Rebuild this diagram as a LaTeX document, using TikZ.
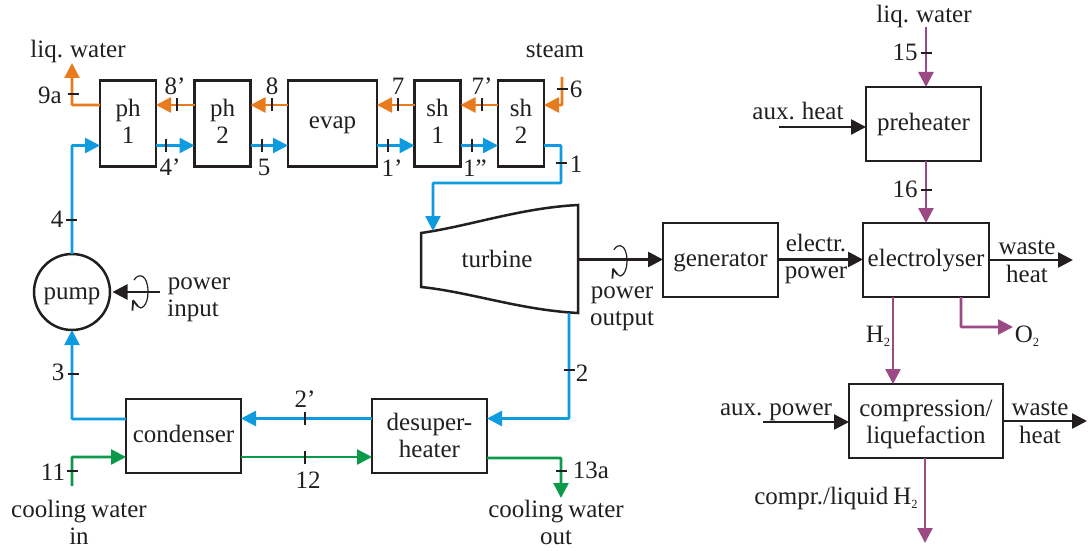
\documentclass[tikz,border=0pt]{standalone}
\usepackage{fontspec}
\setmainfont[WordSpace=0.8]{Liberation Serif}
\usetikzlibrary{arrows.meta,calc}
\definecolor{ink}{HTML}{231F20}
\definecolor{fblue}{HTML}{0F9BE0}
\definecolor{forange}{HTML}{E87B1E}
\definecolor{fgreen}{HTML}{0A9A4A}
\definecolor{fpurple}{HTML}{9B4A85}
\tikzset{
  x=1pt,y=-1pt,
  txt/.style={font=\fontsize{25}{27}\selectfont,text=ink},
  lbl/.style={txt,inner sep=0pt,anchor=base,align=center},
  unit/.style={txt,draw=ink,line width=2.5pt,fill=white,inner sep=0pt,align=center,outer sep=0pt},
  flow/.style={line width=2.6pt,-{Triangle[length=15pt,width=15pt]},rounded corners=0.6pt},
  blueflow/.style={flow,draw=fblue},
  orangeflow/.style={flow,draw=forange},
  greenflow/.style={flow,draw=fgreen},
  purpleflow/.style={flow,draw=fpurple},
  blackflow/.style={flow,draw=ink},
  ticks/.style={line width=2pt,draw=ink},
  spin/.style={line width=1.2pt,draw=ink},
}
\newcommand{\vtick}[2]{\draw[ticks] (#1,#2-6.5) -- (#1,#2+6.5);}
\newcommand{\htick}[2]{\draw[ticks] (#1-5.5,#2) -- (#1+5.5,#2);}
\newcommand{\spinmark}[4]{%
  \draw[spin] (#1-#3*0.75,#2-#4*0.7) .. controls (#1-#3*0.2,#2-#4*1.15) and (#1+#3,#2-#4*1.05) .. (#1+#3,#2) .. controls (#1+#3,#2+#4*0.8) and (#1+#3*0.1,#2+#4*1.1) .. (#1-#3*0.25,#2+#4*0.85);
  \draw[line width=1.8pt,draw=ink,line join=round] (#1-#3*0.25,#2+#4*0.85) -- (#1-#3*0.85,#2+#4*0.5) -- (#1-#3*0.95,#2+#4*1.1);
}
\newcommand{\onel}[2]{\raisebox{-#1pt}[0pt][0pt]{#2}}
\newcommand{\twol}[3]{\raisebox{-#1pt}[0pt][0pt]{#2}\\\raisebox{-#1pt}[0pt][0pt]{#3}}
\newcommand{\subtwo}{\raisebox{-4.5pt}{\fontsize{12.5}{12.5}\selectfont 2}}
\begin{document}
\begin{tikzpicture}
\useasboundingbox (0,0) rectangle (1088,551);
% rows
\coordinate (oy) at (0,105);
\coordinate (by) at (0,145.5);
% units
\node[unit,minimum width=56,minimum height=86] (ph1) at (128,123.5) {\twol{6.5}{ph}{1}};
\node[unit,minimum width=56,minimum height=86] (ph2) at (222.5,123.5) {\twol{6.5}{ph}{2}};
\node[unit,minimum width=89,minimum height=86] (evap) at (332.5,123.5) {\onel{5.5}{evap}};
\node[unit,minimum width=46,minimum height=86] (sh1) at (437.5,123.5) {\twol{6.5}{sh}{1}};
\node[unit,minimum width=46,minimum height=86] (sh2) at (521,123.5) {\twol{6.5}{sh}{2}};
\node[unit,circle,minimum size=76] (pump) at (72,292) {\onel{7}{pump}};
\draw[line width=2.5pt,draw=ink,fill=white,line join=miter] (421,233)
  .. controls (470,226) and (520,208) .. (578,205) -- (578,313)
  .. controls (520,310) and (470,292) .. (421,287) -- cycle;
\node[lbl] (turbine) at (497,267) {turbine};
\node[unit,minimum width=115,minimum height=74] (cond) at (183.5,436) {\onel{6}{condenser}};
\node[unit,minimum width=115,minimum height=74] (desup) at (429.5,436) {\twol{8}{desuper-}{heater}};
\node[unit,minimum width=115,minimum height=74] (gen) at (720.5,260) {\onel{6}{generator}};
\node[unit,minimum width=126,minimum height=74] (elec) at (926,260) {\onel{6}{electrolyser}};
\node[unit,minimum width=115,minimum height=74] (preh) at (923.5,124) {\onel{6}{preheater}};
\node[unit,minimum width=154,minimum height=74] (comp) at (926,421) {\twol{8.5}{compression/}{liquefaction}};
% free ends
\coordinate (liqOut) at (72,63);
\coordinate (steamIn) at (562,77);
\coordinate (turbIn) at (433,231);
\coordinate (turbOut) at (569,313);
\coordinate (turbE) at (578,259.5);
\coordinate (cwIn) at (72,486);
\coordinate (cwOut) at (561,498);
\coordinate (pwIn) at (160,292);
\coordinate (liqIn) at (926,27);
\coordinate (auxHeat) at (779,127);
\coordinate (wasteA) at (1073,260);
\coordinate (o2) at (1013,327);
\coordinate (auxPow) at (763,422);
\coordinate (wasteB) at (1087,421);
\coordinate (comprOut) at (925,543);
% orange water/steam side
\draw[orangeflow] (ph1.west |- oy) -- (72,105) -- (liqOut);
\draw[orangeflow] (ph2.west |- oy) -- (ph1.east |- oy);
\draw[orangeflow] (evap.west |- oy) -- (ph2.east |- oy);
\draw[orangeflow] (sh1.west |- oy) -- (evap.east |- oy);
\draw[orangeflow] (sh2.west |- oy) -- (sh1.east |- oy);
\draw[orangeflow] (steamIn) -- (562,105) -- (sh2.east |- oy);
% blue cycle
\draw[blueflow] (pump.north) -- (72,145.5) -- (ph1.west |- by);
\draw[blueflow] (ph1.east |- by) -- (ph2.west |- by);
\draw[blueflow] (ph2.east |- by) -- (evap.west |- by);
\draw[blueflow] (evap.east |- by) -- (sh1.west |- by);
\draw[blueflow] (sh1.east |- by) -- (sh2.west |- by);
\draw[blueflow] (sh2.east |- by) -- (561,145.5) -- (561,183) -- (433,183) -- (turbIn);
\draw[blueflow] (turbOut) -- (569,418.5) -- (desup.east |- 0,418.5);
\draw[blueflow] (desup.west |- 0,418.5) -- (cond.east |- 0,418.5);
\draw[blueflow] (cond.west |- 0,419) -- (72,419) -- (pump.south);
% green
\draw[greenflow] (cwIn) -- (72,457) -- (cond.west |- 0,457);
\draw[greenflow] (cond.east |- 0,457) -- (desup.west |- 0,457);
\draw[greenflow] (desup.east |- 0,458) -- (561,458) -- (cwOut);
% purple
\draw[purpleflow] (liqIn) -- (liqIn |- preh.north);
\draw[purpleflow] (preh.south -| liqIn) -- (elec.north -| liqIn);
\draw[purpleflow] (elec.south -| 893,0) -- (comp.north -| 893,0);
\draw[purpleflow] (elec.south -| 961,0) -- (961,327) -- (o2);
\draw[purpleflow] (comp.south -| comprOut) -- (comprOut);
% black
\draw[blackflow,shorten >=2.5pt] (pwIn) -- (pump.east);
\draw[blackflow] (turbE) -- (gen.west |- turbE);
\draw[blackflow] (gen.east |- turbE) -- (elec.west |- turbE);
\draw[blackflow] (elec.east |- wasteA) -- (wasteA);
\draw[blackflow] (auxHeat) -- (preh.west |- auxHeat);
\draw[blackflow] (auxPow) -- (comp.west |- auxPow);
\draw[blackflow] (comp.east |- wasteB) -- (wasteB);
% rotation marks
\spinmark{140}{292}{8}{17}
\spinmark{619.5}{261}{7.5}{16}
% ticks
\htick{73}{94}
\vtick{177}{105}\vtick{272}{105}\vtick{398}{105}\vtick{482}{105}
\vtick{166}{145.5}\vtick{262}{145.5}\vtick{387.5}{145.5}\vtick{471.5}{145.5}
\htick{562}{89}\htick{561}{163}
\htick{71}{220}\htick{73}{374}\htick{569}{370}
\vtick{305}{418}\vtick{305}{457}
\htick{72}{471}\htick{561}{471}
\htick{926}{53}\htick{926}{190}
% labels
\node[lbl] (tLiqA) at (78,58) {liq. water};
\node[lbl] (t9a) at (50,103) {9a};
\node[lbl] (t8p) at (175,95) {8’};
\node[lbl] (t8) at (272,95) {8};
\node[lbl] (t7) at (398,95) {7};
\node[lbl] (t7p) at (482,95) {7’};
\node[lbl] (tSteam) at (555,58) {steam};
\node[lbl] (t6) at (576,98) {6};
\node[lbl] (t4p) at (170,175) {4’};
\node[lbl] (t5) at (264,175) {5};
\node[lbl] (t1p) at (392,176) {1’};
\node[lbl] (t1pp) at (475,176) {1”};
\node[lbl] (t1) at (576,172) {1};
\node[lbl] (t4) at (57,227) {4};
\node[lbl] (t3) at (58,380) {3};
\node[lbl] (tPowA) at (199,289) {power};
\node[lbl] (tInp) at (193,316) {input};
\node[lbl] (tPowB) at (622,298) {power};
\node[lbl] (tOutp) at (622,325) {output};
\node[lbl] (t2) at (582,381) {2};
\node[lbl] (t2p) at (305,407) {2’};
\node[lbl] (t12) at (308,488) {12};
\node[lbl] (t11) at (53,480) {11};
\node[lbl] (t13a) at (591,478) {13a};
\node[lbl] (tCwA) at (79,517) {cooling water};
\node[lbl] (tCwB) at (79,544) {in};
\node[lbl] (tCwC) at (556,517) {cooling water};
\node[lbl] (tCwD) at (556,544) {out};
\node[lbl] (tLiqB) at (924,23) {liq. water};
\node[lbl] (t15) at (905,61) {15};
\node[lbl] (t16) at (905,197) {16};
\node[lbl] (tAuxH) at (798,119) {aux. heat};
\node[lbl] (tElA) at (816,251) {electr.};
\node[lbl] (tElB) at (816,278) {power};
\node[lbl] (tWaA) at (1027,254) {waste};
\node[lbl] (tHeA) at (1027,282) {heat};
\node[lbl] (tH2) at (878,342) {H\subtwo};
\node[lbl] (tO2) at (1027,342) {O\subtwo};
\node[lbl] (tAuxP) at (776,415) {aux. power};
\node[lbl] (tWaB) at (1040,415) {waste};
\node[lbl] (tHeB) at (1040,443) {heat};
\node[lbl] (tCompr) at (836,504) {compr./liquid H\subtwo};
\end{tikzpicture}
\end{document}
